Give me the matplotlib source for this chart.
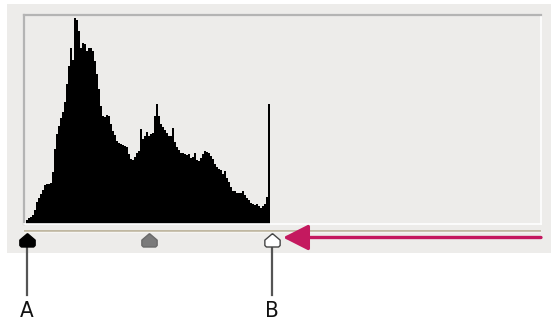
"""Levels dialog style histogram with black / gray / white input sliders."""

import matplotlib.pyplot as plt
from matplotlib.patches import Rectangle

# histogram heights, one value per pair of levels
counts = [
    4, 6, 7, 9, 14, 22, 26, 30, 34, 39, 40, 40, 41, 52, 75, 90, 98, 106, 112, 122,
    140, 158, 176, 164, 206, 204, 193, 176, 181, 180, 173, 176, 176, 173, 163, 150,
    135, 118, 108, 107, 109, 108, 100, 93, 89, 83, 81, 80, 79, 78, 77, 70, 65, 64,
    67, 71, 73, 95, 85, 88, 92, 88, 90, 91, 108, 120, 108, 100, 97, 94, 91, 88, 88,
    96, 82, 77, 74, 71, 71, 70, 69, 70, 66, 67, 71, 64, 63, 66, 70, 73, 72, 71, 68,
    65, 60, 57, 55, 54, 50, 53, 46, 42, 37, 33, 33, 31, 31, 31, 33, 29, 26, 24, 21,
    20, 19, 20, 18, 16, 18, 20, 27, 120,
]
levels = list(range(len(counts)))

# slider positions on the same level axis
slider_pos = [0.5, 61.5, 123.0]
slider_fill = ["#000000", "#7a7a7a", "#ffffff"]
slider_edge = ["#000000", "#6a6a6a", "#444444"]
labels = ["A", "B"]
label_pos = [0.5, 123.0]
arrow_tip, arrow_tail = 128.5, 257.5

W, H = 551, 324
PANEL = "#edecea"

fig = plt.figure(figsize=(W / 100, H / 100), dpi=100, facecolor="white")

# grey dialog panel
fig.patches.append(Rectangle((7 / W, 1 - 252.5 / H), 1 - 7 / W, (252.5 - 4) / H,
                             transform=fig.transFigure, facecolor=PANEL,
                             edgecolor="none", zorder=-5))

# histogram box
ax = fig.add_axes([24 / W, 1 - 223.5 / H, 517 / W, 208.5 / H])
ax.set_zorder(2)
ax.set_facecolor(PANEL)
ax.bar(levels, counts, width=1.0, align="edge", color="black", linewidth=0)
ax.set_xlim(-1, 257.5)
ax.set_ylim(0, 208.5)
ax.set_xticks([])
ax.set_yticks([])
for side in ("left", "top"):
    ax.spines[side].set_color("#b4b4b4")
    ax.spines[side].set_linewidth(1.6)
for side in ("right", "bottom"):
    ax.spines[side].set_color("white")
    ax.spines[side].set_linewidth(1.2)

# slider strip and callouts, y in pixel rows
sl = fig.add_axes([24 / W, 0, 517 / W, 100 / H])
sl.set_zorder(3)
sl.set_xlim(-1, 257.5)
sl.set_ylim(324, 224)
sl.axis("off")
sl.axhline(230.5, color="#bcb39b", linewidth=1.3)
sl.axhline(232.0, color="#f6f5f2", linewidth=1.0)

# house-shaped slider handle, pointing up
house = [(0, 0.9), (1.0, 0.05), (1.0, -0.65), (0.8, -0.85), (-0.8, -0.85),
         (-1.0, -0.65), (-1.0, 0.05), (0, 0.9)]
for x, fc, ec in zip(slider_pos, slider_fill, slider_edge):
    sl.plot([x], [239.5], marker=house, markersize=11, color=fc,
            markeredgecolor=ec, markeredgewidth=1.0, linestyle="none", zorder=4,
            clip_on=False)

for x, lab in zip(label_pos, labels):
    sl.plot([x, x], [247, 295], color="#555555", linewidth=1.6, zorder=3,
            clip_on=False)
    sl.text(x, 311, lab, ha="center", va="center", fontsize=16,
            family=["DejaVu Sans"], stretch="condensed", color="#111111")

sl.annotate("", xy=(arrow_tip, 237.5), xytext=(arrow_tail, 237.5),
            arrowprops=dict(arrowstyle="-|>,head_length=0.65,head_width=0.33",
                            mutation_scale=24, color="#c4195f", linewidth=2.4,
                            shrinkA=0, shrinkB=0))

fig.savefig("out.png", dpi=100, facecolor="white")
